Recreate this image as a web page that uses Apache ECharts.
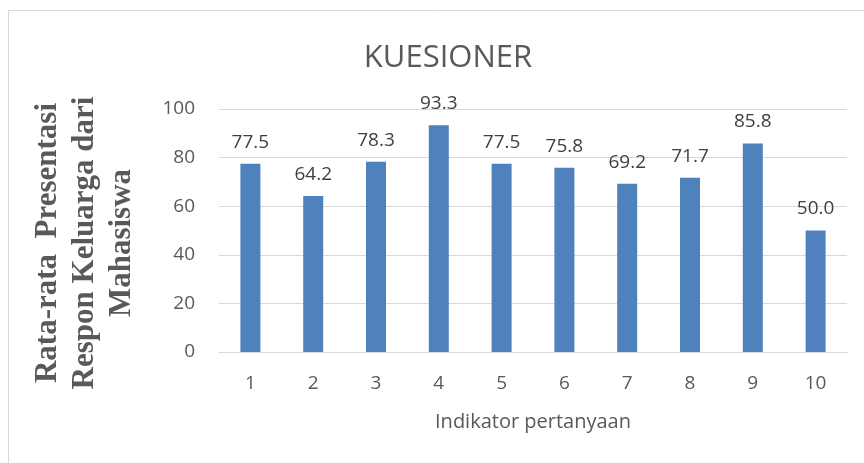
<!DOCTYPE html>
<html><head><meta charset="utf-8">
<script src="https://cdn.jsdelivr.net/npm/echarts@6/dist/echarts.min.js"></script>
<style>html,body{margin:0;padding:0;background:#fff;}#c{width:864px;height:463px;}</style>
</head><body><div id="c"></div>
<script>
const categories = ['1','2','3','4','5','6','7','8','9','10'];
const values = [77.5, 64.2, 78.3, 93.3, 77.5, 75.8, 69.2, 71.7, 85.8, 50.0];
const yTicks = [0, 20, 40, 60, 80, 100];
const titleText = 'KUESIONER';
const xTitle = 'Indikator pertanyaan';
const yTitle = 'Rata-rata  Presentasi\nRespon Keluarga dari\nMahasiswa';

const chart = echarts.init(document.getElementById('c'), null, {renderer: 'canvas'});
chart.setOption({
  animation: false,
  backgroundColor: '#fff',
  title: {
    text: titleText, left: 443, top: 38, textAlign: 'center',
    textStyle: {fontFamily: 'Open Sans', fontSize: 31, fontWeight: 'normal', color: '#595959'}
  },
  graphic: [
    {type: 'polyline', shape: {points: [[8.5, 463], [8.5, 10.5], [864, 10.5]]},
     style: {stroke: '#D9D9D9', lineWidth: 1, fill: null}},
    {type: 'text', x: 85, y: 243, rotation: Math.PI / 2,
     style: {text: yTitle, fontFamily: 'Liberation Serif', fontWeight: 'bold', fontSize: 31,
             lineHeight: 37, fill: '#595959', align: 'center', verticalAlign: 'middle'}}
  ],
  grid: {left: 219, right: 17, top: 109, bottom: 111, containLabel: false},
  xAxis: {
    type: 'category', data: categories,
    name: xTitle, nameLocation: 'middle', nameGap: 60,
    nameTextStyle: {fontFamily: 'Open Sans', fontSize: 20, color: '#595959'},
    axisLine: {lineStyle: {color: '#D9D9D9', width: 1}},
    axisTick: {show: false},
    axisLabel: {fontFamily: 'Open Sans', fontSize: 19, color: '#595959', margin: 22}
  },
  yAxis: {
    type: 'value', min: yTicks[0], max: yTicks[yTicks.length - 1], interval: 20,
    axisLine: {show: false}, axisTick: {show: false},
    splitLine: {lineStyle: {color: '#D9D9D9', width: 1}},
    axisLabel: {fontFamily: 'Open Sans', fontSize: 19, color: '#595959', margin: 24}
  },
  series: [{
    type: 'bar', data: values, barWidth: 20,
    itemStyle: {color: '#4F81BD'},
    label: {show: true, position: 'top', distance: 12,
            formatter: p => p.value.toFixed(1),
            fontFamily: 'Open Sans', fontSize: 19, color: '#404040'}
  }]
});
</script></body></html>
